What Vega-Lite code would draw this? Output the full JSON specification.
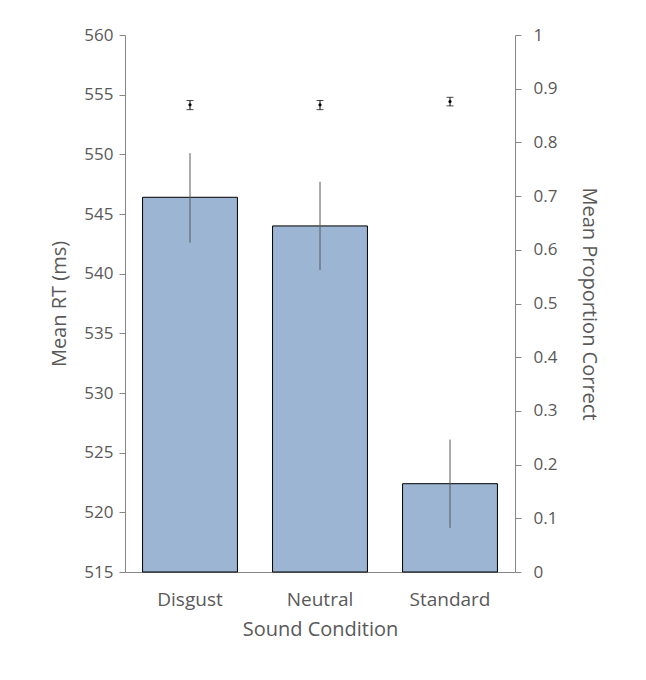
{
"$schema":"https://vega.github.io/schema/vega-lite/v6.json",
"width":390,"height":537,
"autosize":{"type":"none"},
"padding":{"left":125,"top":35,"right":131,"bottom":108},
"background":"white",
"config":{"view":{"stroke":null},"font":"Open Sans","axis":{"labelColor":"#595959","titleColor":"#595959","domainColor":"#868686","tickColor":"#868686","grid":false,"labelFontSize":17,"titleFontSize":20,"titleFontWeight":"normal"}},
"data":{"values":[
{"c":"Disgust","rt":546.4,"rtLo":542.6,"rtHi":550.1,"acc":0.87,"accLo":0.861,"accHi":0.878},
{"c":"Neutral","rt":544.0,"rtLo":540.3,"rtHi":547.7,"acc":0.87,"accLo":0.861,"accHi":0.878},
{"c":"Standard","rt":522.4,"rtLo":518.7,"rtHi":526.1,"acc":0.876,"accLo":0.868,"accHi":0.884}
]},
"encoding":{"x":{"field":"c","type":"nominal","title":"Sound Condition","scale":{"paddingInner":0.27,"paddingOuter":0.135},"axis":{"labelAngle":0,"ticks":false,"labelFontSize":19,"titleFontSize":20,"labelPadding":18,"titlePadding":10}}},
"layer":[
{"layer":[
{"mark":{"type":"bar","color":"#9bb5d3","stroke":"#000000","strokeWidth":1},
 "encoding":{"y":{"field":"rt","type":"quantitative","title":"Mean RT (ms)","scale":{"domain":[515,560],"zero":false,"nice":false},"axis":{"values":[515,520,525,530,535,540,545,550,555,560],"tickSize":6,"labelFontSize":17,"labelPadding":6,"titlePadding":14}},"y2":{"datum":515}}},
{"mark":{"type":"rule","color":"#595959","strokeWidth":1},
 "encoding":{"y":{"field":"rtLo","type":"quantitative"},"y2":{"field":"rtHi"}}}
]},
{"layer":[
{"mark":{"type":"rule","color":"#000000","strokeWidth":1},
 "encoding":{"y":{"field":"accLo","type":"quantitative","scale":{"domain":[0,1],"nice":false},"title":"Mean Proportion Correct","axis":{"orient":"right","values":[0,0.1,0.2,0.3,0.4,0.5,0.6,0.7,0.8,0.9,1],"format":".1~f","tickSize":6,"labelFontSize":17,"labelPadding":12,"titlePadding":22,"titleAngle":90}},"y2":{"field":"accHi"}}},
{"mark":{"type":"tick","color":"#000000","size":7,"thickness":1,"orient":"horizontal"},"encoding":{"y":{"field":"accLo","type":"quantitative"}}},
{"mark":{"type":"tick","color":"#000000","size":7,"thickness":1,"orient":"horizontal"},"encoding":{"y":{"field":"accHi","type":"quantitative"}}},
{"mark":{"type":"point","filled":true,"color":"#000000","size":10,"opacity":1},"encoding":{"y":{"field":"acc","type":"quantitative"}}}
]}
],
"resolve":{"scale":{"y":"independent"}}
}
